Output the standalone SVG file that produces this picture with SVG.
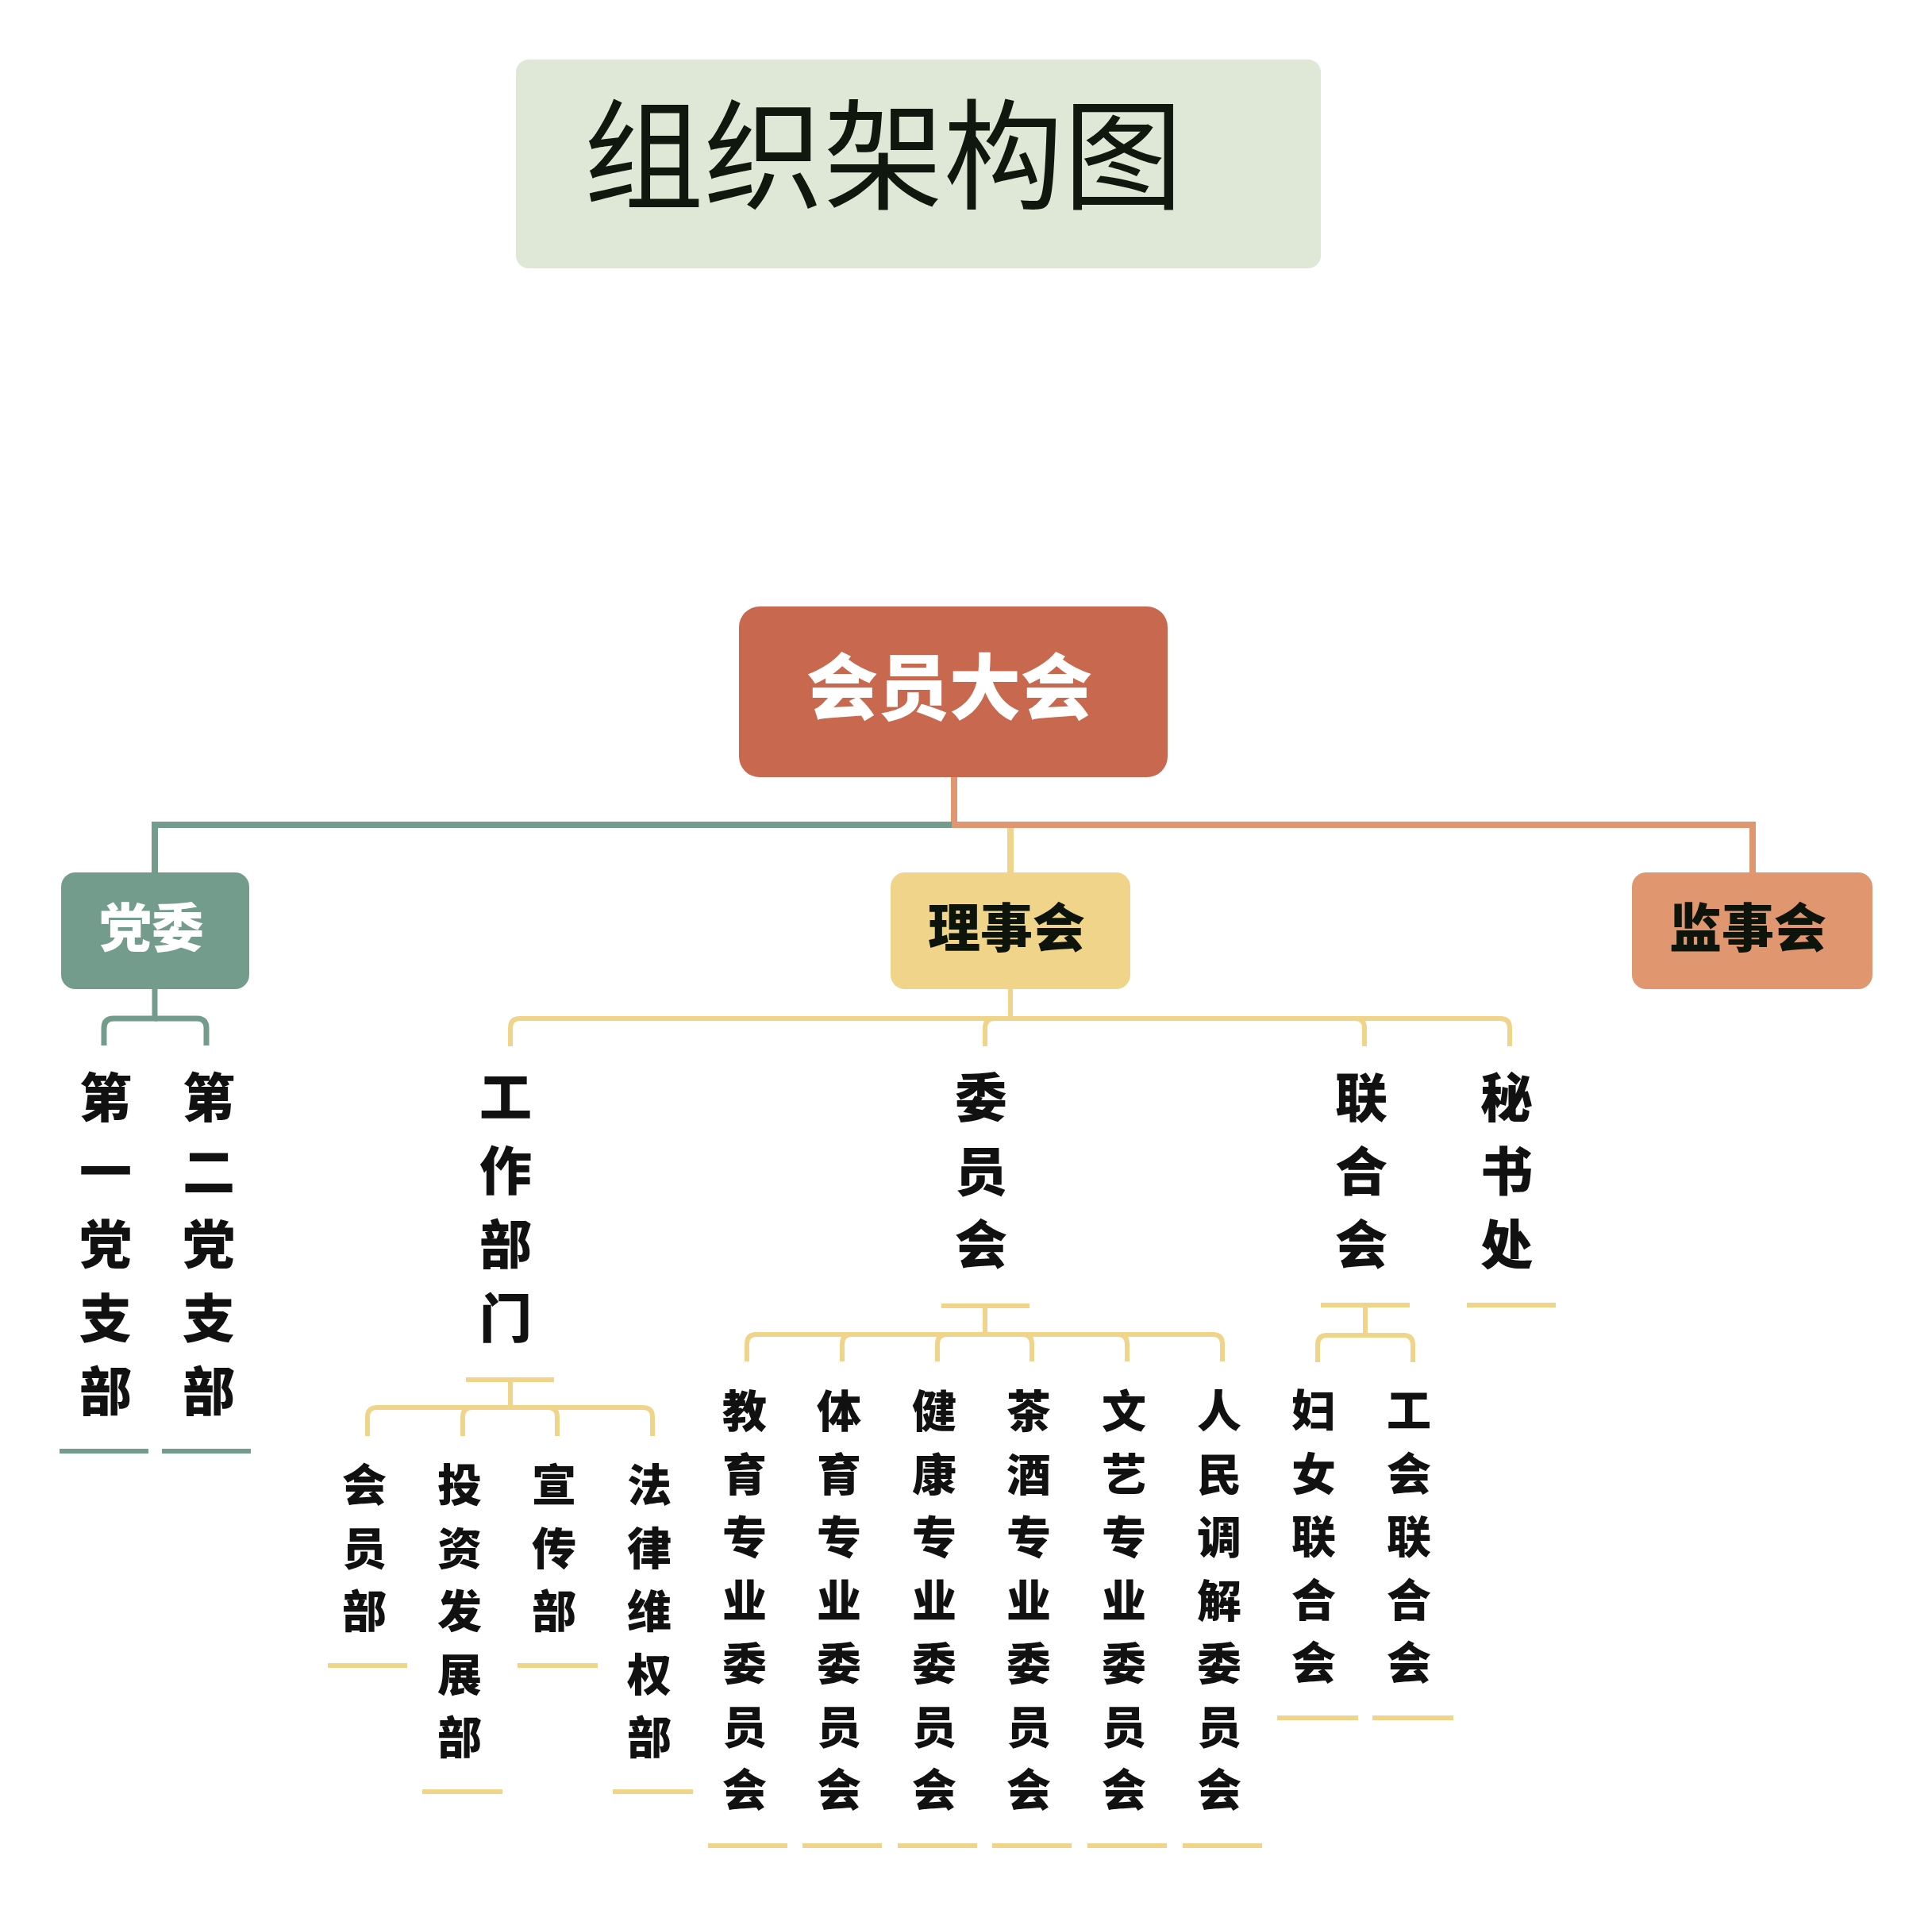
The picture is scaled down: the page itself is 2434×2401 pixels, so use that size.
<svg xmlns="http://www.w3.org/2000/svg" width="2434" height="2401" viewBox="0 0 2434 2401">
<style>
.cjk{font-family:"Noto Sans CJK SC","Noto Sans CJK JP",sans-serif;font-weight:900;text-anchor:middle}
.l2{font-size:66px;fill:#111111}
.l3{font-size:56px;fill:#111111}
.g{fill:none;stroke:#749c8c;stroke-width:7}
.y{fill:none;stroke:#efd48a;stroke-width:6}
.ym{fill:none;stroke:#efd48a;stroke-width:8}
.o{fill:none;stroke:#e0966f;stroke-width:8}
.gm{fill:none;stroke:#749c8c;stroke-width:8}
.ug{stroke:#749c8c;stroke-width:6}
.uy{stroke:#efd48a;stroke-width:6}
</style>
<rect width="2434" height="2401" fill="#ffffff"/>

<g id="title">
<rect x="650" y="75" width="1014" height="263" rx="16" fill="#dfe8d6"/>
<text x="1113" y="252" font-family="'Noto Sans CJK SC',sans-serif" font-size="151" fill="#0f170e" text-anchor="middle">组织架构图</text>
</g>

<g id="connectors">
<path class="o" d="M1202,979 V1039 H2208 V1099"/>
<path class="gm" d="M1199,1039 H195 V1099"/>
<path class="ym" d="M1273,1043 V1099"/>
<!-- 党委 children -->
<path class="g" d="M195,1246 V1283 H143 Q131,1283 131,1295 V1317"/>
<path class="g" d="M195,1283 H248 Q260,1283 260,1295 V1317"/>
<!-- 理事会 children -->
<path class="y" d="M1273,1246 V1283 H655 Q643,1283 643,1295 V1318"/>
<path class="y" d="M1273,1283 H1253 Q1241,1283 1241,1295 V1318"/>
<path class="y" d="M1273,1283 H1707 Q1719,1283 1719,1295 V1318"/>
<path class="y" d="M1273,1283 H1890 Q1902,1283 1902,1295 V1318"/>
<!-- 工作部门 children -->
<path class="y" d="M643,1738 V1773 H475 Q463,1773 463,1785 V1809"/>
<path class="y" d="M643,1773 H595 Q583,1773 583,1785 V1809"/>
<path class="y" d="M643,1773 H690 Q702,1773 702,1785 V1809"/>
<path class="y" d="M643,1773 H810 Q822,1773 822,1785 V1809"/>
<!-- 委员会 children -->
<path class="y" d="M1241,1645 V1681 H953 Q941,1681 941,1693 V1715"/>
<path class="y" d="M1241,1681 H1073 Q1061,1681 1061,1693 V1715"/>
<path class="y" d="M1241,1681 H1193 Q1181,1681 1181,1693 V1715"/>
<path class="y" d="M1241,1681 H1288 Q1300,1681 1300,1693 V1715"/>
<path class="y" d="M1241,1681 H1408 Q1420,1681 1420,1693 V1715"/>
<path class="y" d="M1241,1681 H1528 Q1540,1681 1540,1693 V1715"/>
<!-- 联合会 children -->
<path class="y" d="M1720,1644 V1682 H1672 Q1660,1682 1660,1694 V1716"/>
<path class="y" d="M1720,1682 H1768 Q1780,1682 1780,1694 V1716"/>
</g>

<g id="node-huiyuandahui">
<rect x="931" y="764" width="540" height="215" rx="26" fill="#c8684f"/>
<text class="cjk" x="1196" y="899" font-size="90" fill="#ffffff">会员大会</text>
</g>

<g id="node-dangwei">
<rect x="77" y="1099" width="237" height="147" rx="18" fill="#749c8c"/>
<text class="cjk" x="191" y="1193" font-size="66" fill="#ffffff">党委</text>
</g>

<g id="node-lishihui">
<rect x="1122" y="1099" width="302" height="147" rx="18" fill="#efd48a"/>
<text class="cjk" x="1268" y="1193" font-size="66" fill="#0d140c">理事会</text>
</g>

<g id="node-jianshihui">
<rect x="2056" y="1099" width="303" height="147" rx="18" fill="#e0966f"/>
<text class="cjk" x="2202" y="1193" font-size="66" fill="#0d140c">监事会</text>
</g>

<g id="node-diyi">
<text class="cjk l2"><tspan x="133" y="1407">第</tspan><tspan x="133" y="1499.5">一</tspan><tspan x="133" y="1592">党</tspan><tspan x="133" y="1684.5">支</tspan><tspan x="133" y="1777">部</tspan></text>
<line class="ug" x1="75" y1="1828" x2="187" y2="1828"/>
</g>
<g id="node-dier">
<text class="cjk l2"><tspan x="263" y="1407">第</tspan><tspan x="263" y="1499.5">二</tspan><tspan x="263" y="1592">党</tspan><tspan x="263" y="1684.5">支</tspan><tspan x="263" y="1777">部</tspan></text>
<line class="ug" x1="204" y1="1828" x2="316" y2="1828"/>
</g>

<g id="node-gongzuobumen">
<text class="cjk l2"><tspan x="637" y="1406">工</tspan><tspan x="637" y="1499">作</tspan><tspan x="637" y="1592">部</tspan><tspan x="637" y="1685">门</tspan></text>
<line class="uy" x1="587" y1="1738" x2="698" y2="1738"/>
</g>
<g id="node-weiyuanhui">
<text class="cjk l2"><tspan x="1236" y="1407">委</tspan><tspan x="1236" y="1500">员</tspan><tspan x="1236" y="1592">会</tspan></text>
<line class="uy" x1="1186" y1="1645" x2="1297" y2="1645"/>
</g>
<g id="node-lianhehui">
<text class="cjk l2"><tspan x="1715" y="1407">联</tspan><tspan x="1715" y="1500">合</tspan><tspan x="1715" y="1592">会</tspan></text>
<line class="uy" x1="1664" y1="1644" x2="1776" y2="1644"/>
</g>
<g id="node-mishuchu">
<text class="cjk l2"><tspan x="1898" y="1407">秘</tspan><tspan x="1898" y="1500">书</tspan><tspan x="1898" y="1592">处</tspan></text>
<line class="uy" x1="1848" y1="1644" x2="1960" y2="1644"/>
</g>

<g id="node-huiyuanbu">
<text class="cjk l3"><tspan x="459" y="1891">会</tspan><tspan x="459" y="1970.5">员</tspan><tspan x="459" y="2050">部</tspan></text>
<line class="uy" x1="413" y1="2098" x2="513" y2="2098"/>
</g>
<g id="node-touzi">
<text class="cjk l3"><tspan x="579" y="1891">投</tspan><tspan x="579" y="1970.5">资</tspan><tspan x="579" y="2050">发</tspan><tspan x="579" y="2129.5">展</tspan><tspan x="579" y="2209">部</tspan></text>
<line class="uy" x1="532" y1="2257" x2="633" y2="2257"/>
</g>
<g id="node-xuanchuan">
<text class="cjk l3"><tspan x="698" y="1891">宣</tspan><tspan x="698" y="1970.5">传</tspan><tspan x="698" y="2050">部</tspan></text>
<line class="uy" x1="652" y1="2098" x2="753" y2="2098"/>
</g>
<g id="node-falv">
<text class="cjk l3"><tspan x="818" y="1891">法</tspan><tspan x="818" y="1970.5">律</tspan><tspan x="818" y="2050">维</tspan><tspan x="818" y="2129.5">权</tspan><tspan x="818" y="2209">部</tspan></text>
<line class="uy" x1="772" y1="2257" x2="873" y2="2257"/>
</g>

<g id="node-jiaoyu">
<text class="cjk l3"><tspan x="938" y="1798">教</tspan><tspan x="938" y="1877.5">育</tspan><tspan x="938" y="1957">专</tspan><tspan x="938" y="2036.5">业</tspan><tspan x="938" y="2116">委</tspan><tspan x="938" y="2195.5">员</tspan><tspan x="938" y="2275">会</tspan></text>
<line class="uy" x1="892" y1="2325" x2="992" y2="2325"/>
</g>
<g id="node-tiyu">
<text class="cjk l3"><tspan x="1057" y="1798">体</tspan><tspan x="1057" y="1877.5">育</tspan><tspan x="1057" y="1957">专</tspan><tspan x="1057" y="2036.5">业</tspan><tspan x="1057" y="2116">委</tspan><tspan x="1057" y="2195.5">员</tspan><tspan x="1057" y="2275">会</tspan></text>
<line class="uy" x1="1011" y1="2325" x2="1111" y2="2325"/>
</g>
<g id="node-jiankang">
<text class="cjk l3"><tspan x="1177" y="1798">健</tspan><tspan x="1177" y="1877.5">康</tspan><tspan x="1177" y="1957">专</tspan><tspan x="1177" y="2036.5">业</tspan><tspan x="1177" y="2116">委</tspan><tspan x="1177" y="2195.5">员</tspan><tspan x="1177" y="2275">会</tspan></text>
<line class="uy" x1="1131" y1="2325" x2="1231" y2="2325"/>
</g>
<g id="node-chajiu">
<text class="cjk l3"><tspan x="1296" y="1798">茶</tspan><tspan x="1296" y="1877.5">酒</tspan><tspan x="1296" y="1957">专</tspan><tspan x="1296" y="2036.5">业</tspan><tspan x="1296" y="2116">委</tspan><tspan x="1296" y="2195.5">员</tspan><tspan x="1296" y="2275">会</tspan></text>
<line class="uy" x1="1250" y1="2325" x2="1350" y2="2325"/>
</g>
<g id="node-wenyi">
<text class="cjk l3"><tspan x="1416" y="1798">文</tspan><tspan x="1416" y="1877.5">艺</tspan><tspan x="1416" y="1957">专</tspan><tspan x="1416" y="2036.5">业</tspan><tspan x="1416" y="2116">委</tspan><tspan x="1416" y="2195.5">员</tspan><tspan x="1416" y="2275">会</tspan></text>
<line class="uy" x1="1370" y1="2325" x2="1470" y2="2325"/>
</g>
<g id="node-renmin">
<text class="cjk l3"><tspan x="1536" y="1798">人</tspan><tspan x="1536" y="1877.5">民</tspan><tspan x="1536" y="1957">调</tspan><tspan x="1536" y="2036.5">解</tspan><tspan x="1536" y="2116">委</tspan><tspan x="1536" y="2195.5">员</tspan><tspan x="1536" y="2275">会</tspan></text>
<line class="uy" x1="1490" y1="2325" x2="1590" y2="2325"/>
</g>

<g id="node-funv">
<text class="cjk l3"><tspan x="1655" y="1797">妇</tspan><tspan x="1655" y="1876.5">女</tspan><tspan x="1655" y="1956">联</tspan><tspan x="1655" y="2035.5">合</tspan><tspan x="1655" y="2115">会</tspan></text>
<line class="uy" x1="1609" y1="2164" x2="1711" y2="2164"/>
</g>
<g id="node-gonghui">
<text class="cjk l3"><tspan x="1775" y="1797">工</tspan><tspan x="1775" y="1876.5">会</tspan><tspan x="1775" y="1956">联</tspan><tspan x="1775" y="2035.5">合</tspan><tspan x="1775" y="2115">会</tspan></text>
<line class="uy" x1="1729" y1="2164" x2="1831" y2="2164"/>
</g>
</svg>
